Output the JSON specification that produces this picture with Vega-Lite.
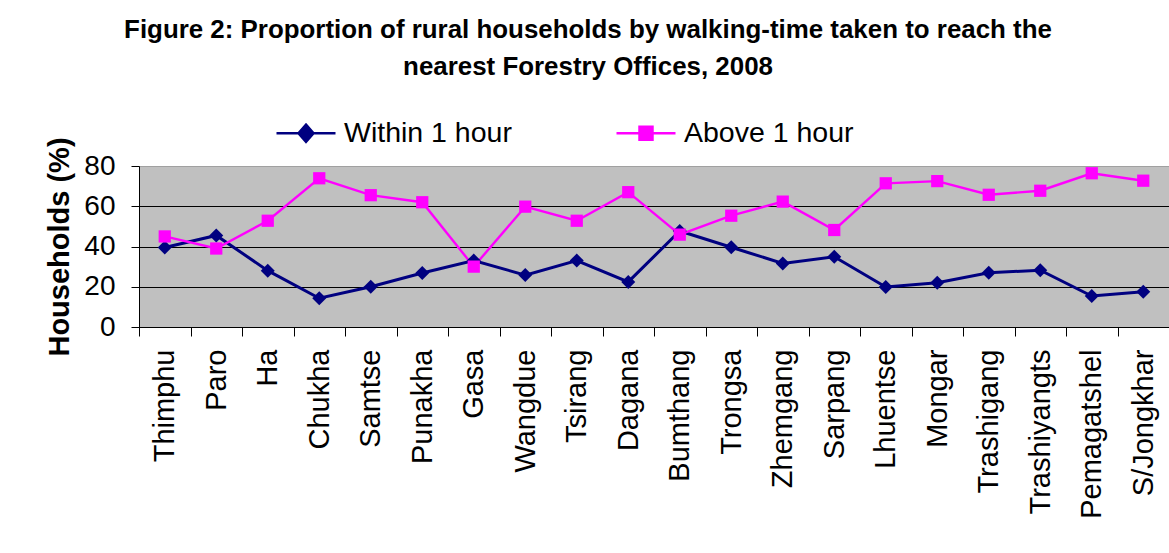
{
  "$schema": "https://vega.github.io/schema/vega-lite/v6.json",
  "width": 1030,
  "height": 161,
  "autosize": {"type": "none"},
  "padding": {"left": 139, "top": 166, "right": 0, "bottom": 226},
  "background": "white",
  "title": {
    "text": ["Figure 2: Proportion of rural households by walking-time taken to reach the", "nearest Forestry Offices, 2008"],
    "font": "Liberation Sans",
    "fontSize": 25.9,
    "fontWeight": "bold",
    "lineHeight": 37,
    "anchor": "middle",
    "frame": "group",
    "dx": -66,
    "offset": 21,
    "color": "black"
  },
  "config": {
    "view": {"fill": "#c0c0c0", "stroke": "#a0a0a0", "strokeWidth": 1},
    "font": "Liberation Sans"
  },
  "data": {
    "values": [
      {"district": "Thimphu", "series": "Within 1 hour", "value": 39.5},
      {"district": "Paro", "series": "Within 1 hour", "value": 45.5},
      {"district": "Ha", "series": "Within 1 hour", "value": 28},
      {"district": "Chukha", "series": "Within 1 hour", "value": 14.3},
      {"district": "Samtse", "series": "Within 1 hour", "value": 20},
      {"district": "Punakha", "series": "Within 1 hour", "value": 26.8},
      {"district": "Gasa", "series": "Within 1 hour", "value": 33},
      {"district": "Wangdue", "series": "Within 1 hour", "value": 25.8},
      {"district": "Tsirang", "series": "Within 1 hour", "value": 33},
      {"district": "Dagana", "series": "Within 1 hour", "value": 22.4},
      {"district": "Bumthang", "series": "Within 1 hour", "value": 47.7},
      {"district": "Trongsa", "series": "Within 1 hour", "value": 39.6},
      {"district": "Zhemgang", "series": "Within 1 hour", "value": 31.6},
      {"district": "Sarpang", "series": "Within 1 hour", "value": 34.9},
      {"district": "Lhuentse", "series": "Within 1 hour", "value": 19.9},
      {"district": "Mongar", "series": "Within 1 hour", "value": 22},
      {"district": "Trashigang", "series": "Within 1 hour", "value": 27},
      {"district": "Trashiyangts", "series": "Within 1 hour", "value": 28.2},
      {"district": "Pemagatshel", "series": "Within 1 hour", "value": 15.4},
      {"district": "S/Jongkhar", "series": "Within 1 hour", "value": 17.5},
      {"district": "Thimphu", "series": "Above 1 hour", "value": 45},
      {"district": "Paro", "series": "Above 1 hour", "value": 39},
      {"district": "Ha", "series": "Above 1 hour", "value": 52.8},
      {"district": "Chukha", "series": "Above 1 hour", "value": 73.9},
      {"district": "Samtse", "series": "Above 1 hour", "value": 65.5},
      {"district": "Punakha", "series": "Above 1 hour", "value": 62},
      {"district": "Gasa", "series": "Above 1 hour", "value": 30},
      {"district": "Wangdue", "series": "Above 1 hour", "value": 59.8},
      {"district": "Tsirang", "series": "Above 1 hour", "value": 52.8},
      {"district": "Dagana", "series": "Above 1 hour", "value": 67},
      {"district": "Bumthang", "series": "Above 1 hour", "value": 45.9},
      {"district": "Trongsa", "series": "Above 1 hour", "value": 55.3},
      {"district": "Zhemgang", "series": "Above 1 hour", "value": 62.3},
      {"district": "Sarpang", "series": "Above 1 hour", "value": 48.2},
      {"district": "Lhuentse", "series": "Above 1 hour", "value": 71.4},
      {"district": "Mongar", "series": "Above 1 hour", "value": 72.5},
      {"district": "Trashigang", "series": "Above 1 hour", "value": 65.7},
      {"district": "Trashiyangts", "series": "Above 1 hour", "value": 67.7},
      {"district": "Pemagatshel", "series": "Above 1 hour", "value": 76.4},
      {"district": "S/Jongkhar", "series": "Above 1 hour", "value": 72.7}
    ]
  },
  "encoding": {
    "x": {
      "field": "district",
      "type": "nominal",
      "sort": null,
      "scale": {"type": "band", "paddingInner": 0, "paddingOuter": 0},
      "axis": {
        "title": null,
        "labelAngle": -90,
        "labelAlign": "right",
        "labelBaseline": "middle",
        "labelFont": "Liberation Sans",
        "labelFontSize": 29,
        "labelColor": "black",
        "labelPadding": 13,
        "tickBand": "extent",
        "tickSize": 9,
        "tickColor": "black",
        "domainColor": "black",
        "grid": false,
        "labelOverlap": false
      }
    },
    "y": {
      "field": "value",
      "type": "quantitative",
      "scale": {"domain": [0, 80], "nice": false},
      "axis": {
        "title": "Households (%)",
        "titleFont": "Liberation Sans",
        "titleFontSize": 29,
        "titleFontWeight": "bold",
        "titleColor": "black",
        "titlePadding": 9,
        "values": [0, 20, 40, 60, 80],
        "labelFont": "Liberation Sans",
        "labelFontSize": 28,
        "labelColor": "black",
        "labelPadding": 16,
        "tickSize": 8,
        "tickColor": "black",
        "domainColor": "black",
        "grid": true,
        "gridColor": {"condition": {"test": "datum.value === 80", "value": "#a0a0a0"}, "value": "black"},
        "gridWidth": 1
      }
    },
    "color": {
      "field": "series",
      "type": "nominal",
      "sort": ["Within 1 hour", "Above 1 hour"],
      "scale": {"domain": ["Within 1 hour", "Above 1 hour"], "range": ["#000080", "#ff00ff"]},
      "legend": {
        "title": null,
        "orient": "none",
        "direction": "horizontal",
        "legendX": 136,
        "legendY": -64,
        "padding": 0,
        "symbolSize": 3481,
        "labelFont": "Liberation Sans",
        "labelFontSize": 28.5,
        "labelColor": "black",
        "labelOffset": 7,
        "columnPadding": 99,
        "labelLimit": 400,
        "encode": {
          "symbols": {
            "update": {
              "shape": {"signal": "datum.value === 'Within 1 hour' ? 'M-1,0H1M0,-0.29L0.254,0L0,0.29L-0.254,0Z' : 'M-1,0H1M-0.22,-0.22H0.22V0.22H-0.22Z'"},
              "fill": {"signal": "datum.value === 'Within 1 hour' ? '#000080' : '#ff00ff'"},
              "stroke": {"signal": "datum.value === 'Within 1 hour' ? '#000080' : '#ff00ff'"},
              "strokeWidth": {"value": 2.5},
              "opacity": {"value": 1},
              "fillOpacity": {"value": 1},
              "strokeOpacity": {"value": 1}
            }
          }
        }
      }
    }
  },
  "layer": [
    {
      "transform": [{"filter": "datum.series === 'Within 1 hour'"}],
      "mark": {"type": "line", "strokeWidth": 3}
    },
    {
      "transform": [{"filter": "datum.series === 'Above 1 hour'"}],
      "mark": {"type": "line", "strokeWidth": 2.4}
    },
    {
      "transform": [{"filter": "datum.series === 'Within 1 hour'"}],
      "mark": {"type": "point", "filled": true, "opacity": 1, "shape": "diamond", "size": 196}
    },
    {
      "transform": [{"filter": "datum.series === 'Above 1 hour'"}],
      "mark": {"type": "point", "filled": true, "opacity": 1, "shape": "square", "size": 150}
    }
  ]
}
